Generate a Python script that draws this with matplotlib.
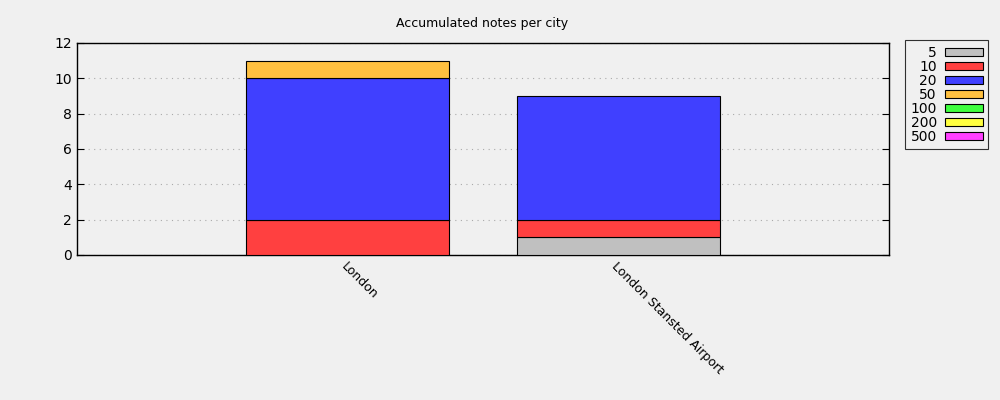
import numpy as np
import matplotlib
matplotlib.use("Agg")
import matplotlib.pyplot as plt
from matplotlib.patches import Patch

cities = ["London", "London Stansted Airport"]
denoms = ["5", "10", "20", "50", "100", "200", "500"]
colors = ["#c0c0c0", "#ff4040", "#4040ff", "#ffc040", "#40ff40", "#ffff40", "#ff40ff"]
# counts per denomination, one value per city
notes_5 = [0, 1]
notes_10 = [2, 1]
notes_20 = [8, 7]
notes_50 = [1, 0]
notes_100 = [0, 0]
notes_200 = [0, 0]
notes_500 = [0, 0]
series = [notes_5, notes_10, notes_20, notes_50, notes_100, notes_200, notes_500]

bg = "#f0f0f0"
fig = plt.figure(figsize=(10, 4), dpi=100, facecolor=bg)
ax = fig.add_axes([0.077, 0.3625, 0.812, 0.53])
ax.set_facecolor(bg)

x = np.arange(len(cities))
bottom = np.zeros(len(cities))
for vals, c in zip(series, colors):
    vals = np.array(vals, dtype=float)
    mask = vals > 0
    ax.bar(x[mask], vals[mask], width=0.75, bottom=bottom[mask], color=c,
           edgecolor="black", linewidth=0.8, zorder=3)
    bottom += vals

ax.set_xlim(-1, 2)
ax.set_ylim(0, 12)
ax.set_yticks(range(0, 13, 2))
ax.yaxis.grid(True, linestyle=(0, (1, 4)), color="#aaaaaa", linewidth=0.8, zorder=0)
ax.tick_params(axis="y", direction="in", right=True, labelsize=10, length=5)
ax.tick_params(axis="x", length=0)
ax.set_xticks(x)
ax.set_xticklabels(cities, rotation=-45, ha="left", va="top",
                   rotation_mode="anchor", fontsize=9)
for s in ax.spines.values():
    s.set_linewidth(1.0)

fig.text(0.482, 0.94, "Accumulated notes per city", ha="center", va="center", fontsize=9)

handles = [Patch(facecolor=c, edgecolor="black", linewidth=0.8) for c in colors]
leg = fig.legend(handles, denoms, loc="upper left", bbox_to_anchor=(0.905, 0.9),
                 markerfirst=False, fontsize=10, frameon=True, fancybox=False,
                 handlelength=2.7, handleheight=0.5, labelspacing=0.0,
                 borderpad=0.4, handletextpad=0.6, borderaxespad=0)
leg.get_frame().set_edgecolor("black")
leg.get_frame().set_facecolor(bg)
leg.get_frame().set_linewidth(0.8)
for t in leg.get_texts():
    t.set_ha("right")

fig.savefig("out.png", dpi=100, facecolor=bg)
